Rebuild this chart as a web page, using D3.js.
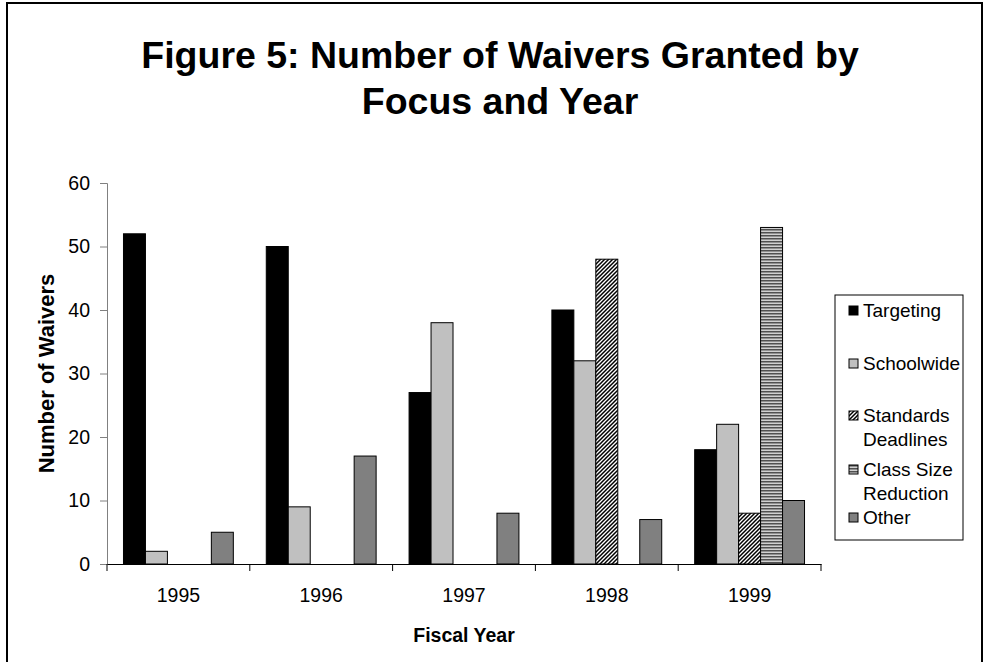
<!DOCTYPE html>
<html>
<head>
<meta charset="utf-8">
<script src="https://cdn.jsdelivr.net/npm/d3@7"></script>
<style>
  body { margin: 0; background: #fff; }
  svg { display: block; font-family: "Liberation Sans", Arial, sans-serif; }
</style>
</head>
<body>
<div id="chart"></div>
<script>
// data
const years = ['1995', '1996', '1997', '1998', '1999'];
const seriesNames = ['Targeting', 'Schoolwide', 'Standards Deadlines', 'Class Size Reduction', 'Other'];
const targeting = [52, 50, 27, 40, 18];
const schoolwide = [2, 9, 38, 32, 22];
const standardsDeadlines = [0, 0, 0, 48, 8];
const classSizeReduction = [0, 0, 0, 0, 53];
const other = [5, 17, 8, 7, 10];
const yTicks = [0, 10, 20, 30, 40, 50, 60];
const legendLines = [['Targeting'], ['Schoolwide'], ['Standards', 'Deadlines'], ['Class Size', 'Reduction'], ['Other']];

const values = [targeting, schoolwide, standardsDeadlines, classSizeReduction, other];
const rows = [];
years.forEach((yr, i) => {
  seriesNames.forEach((s, j) => rows.push({ year: yr, series: s, value: values[j][i] }));
});

const width = 985, height = 662;
const plot = { left: 107, right: 821, top: 183, bottom: 564 };

const svg = d3.select('#chart').append('svg')
  .attr('width', width)
  .attr('height', height);

// fill patterns
const defs = svg.append('defs');
const hatch = defs.append('pattern')
  .attr('id', 'hatch').attr('patternUnits', 'userSpaceOnUse')
  .attr('width', 4).attr('height', 4);
hatch.append('rect').attr('width', 4).attr('height', 4).attr('fill', '#fff');
hatch.append('path')
  .attr('d', 'M-1,1 l2,-2 M0,4 l4,-4 M3,5 l2,-2')
  .attr('stroke', '#000').attr('stroke-width', 1.5);

const stripes = defs.append('pattern')
  .attr('id', 'stripes').attr('patternUnits', 'userSpaceOnUse')
  .attr('width', 4).attr('height', 3);
stripes.append('rect').attr('width', 4).attr('height', 3).attr('fill', '#d0d0d0');
stripes.append('rect').attr('y', 1).attr('width', 4).attr('height', 1.5).attr('fill', '#505050');

const fills = d3.scaleOrdinal()
  .domain(seriesNames)
  .range(['#000000', '#c0c0c0', 'url(#hatch)', 'url(#stripes)', '#808080']);

// outer frame
svg.append('rect')
  .attr('x', 7).attr('y', 3)
  .attr('width', 975).attr('height', 700)
  .attr('fill', 'none').attr('stroke', '#000').attr('stroke-width', 2);

// scales
const x0 = d3.scaleBand().domain(years).range([plot.left, plot.right]).padding(0);
const x1 = d3.scaleBand().domain(seriesNames).range([0, x0.bandwidth()])
  .paddingInner(0).paddingOuter(0.75);
const y = d3.scaleLinear().domain([0, 60]).range([plot.bottom, plot.top]);

// y axis
const yAxis = svg.append('g')
  .attr('transform', `translate(${plot.left},0)`)
  .call(d3.axisLeft(y).tickValues(yTicks).tickSize(7).tickPadding(10));
yAxis.select('.domain').attr('stroke', '#808080');
yAxis.selectAll('.tick line').attr('stroke', '#808080');
yAxis.selectAll('.tick text').attr('font-size', 19.5).attr('fill', '#000');

// bars
svg.append('g').selectAll('rect')
  .data(rows.filter(d => d.value > 0))
  .join('rect')
  .attr('x', d => x0(d.year) + x1(d.series))
  .attr('y', d => y(d.value))
  .attr('width', x1.bandwidth())
  .attr('height', d => y(0) - y(d.value))
  .attr('fill', d => fills(d.series))
  .attr('stroke', '#000')
  .attr('stroke-width', 1);

// x axis: labels centred in the bands, ticks on the band edges
const xAxis = svg.append('g')
  .attr('transform', `translate(0,${plot.bottom})`)
  .call(d3.axisBottom(x0).tickSize(0).tickPadding(24));
xAxis.select('.domain').attr('stroke', '#000');
xAxis.selectAll('.tick text').attr('font-size', 19.5).attr('fill', '#000');

const edges = d3.range(years.length + 1).map(i => plot.left + i * x0.step());
svg.append('g').selectAll('line')
  .data(edges)
  .join('line')
  .attr('x1', d => d).attr('x2', d => d)
  .attr('y1', plot.bottom).attr('y2', plot.bottom + 7)
  .attr('stroke', '#000');

// titles
const title = svg.append('text')
  .attr('text-anchor', 'middle')
  .attr('font-size', 37.5)
  .attr('font-weight', 'bold');
title.append('tspan').attr('x', 500).attr('y', 68).text('Figure 5: Number of Waivers Granted by');
title.append('tspan').attr('x', 500).attr('y', 114).text('Focus and Year');

svg.append('text')
  .attr('x', (plot.left + plot.right) / 2)
  .attr('y', 642)
  .attr('text-anchor', 'middle')
  .attr('font-size', 19.5)
  .attr('font-weight', 'bold')
  .text('Fiscal Year');

svg.append('text')
  .attr('transform', `translate(54,${(plot.top + plot.bottom) / 2}) rotate(-90)`)
  .attr('text-anchor', 'middle')
  .attr('font-size', 22)
  .attr('font-weight', 'bold')
  .text('Number of Waivers');

// legend
const legend = svg.append('g').attr('transform', 'translate(835,295)');
legend.append('rect')
  .attr('width', 128).attr('height', 245)
  .attr('fill', '#fff').attr('stroke', '#000');

const rowTop = [22, 75, 127, 181, 229];
const entry = legend.selectAll('g.entry')
  .data(seriesNames)
  .join('g')
  .attr('class', 'entry')
  .attr('transform', (d, i) => `translate(0,${rowTop[i]})`);
entry.append('rect')
  .attr('x', 14).attr('y', -11)
  .attr('width', 9).attr('height', 9)
  .attr('fill', d => fills(d))
  .attr('stroke', '#000');
entry.append('text')
  .attr('font-size', 19)
  .selectAll('tspan')
  .data((d, i) => legendLines[i])
  .join('tspan')
  .attr('x', 28)
  .attr('y', (d, i) => i * 24)
  .text(d => d);
</script>
</body>
</html>
